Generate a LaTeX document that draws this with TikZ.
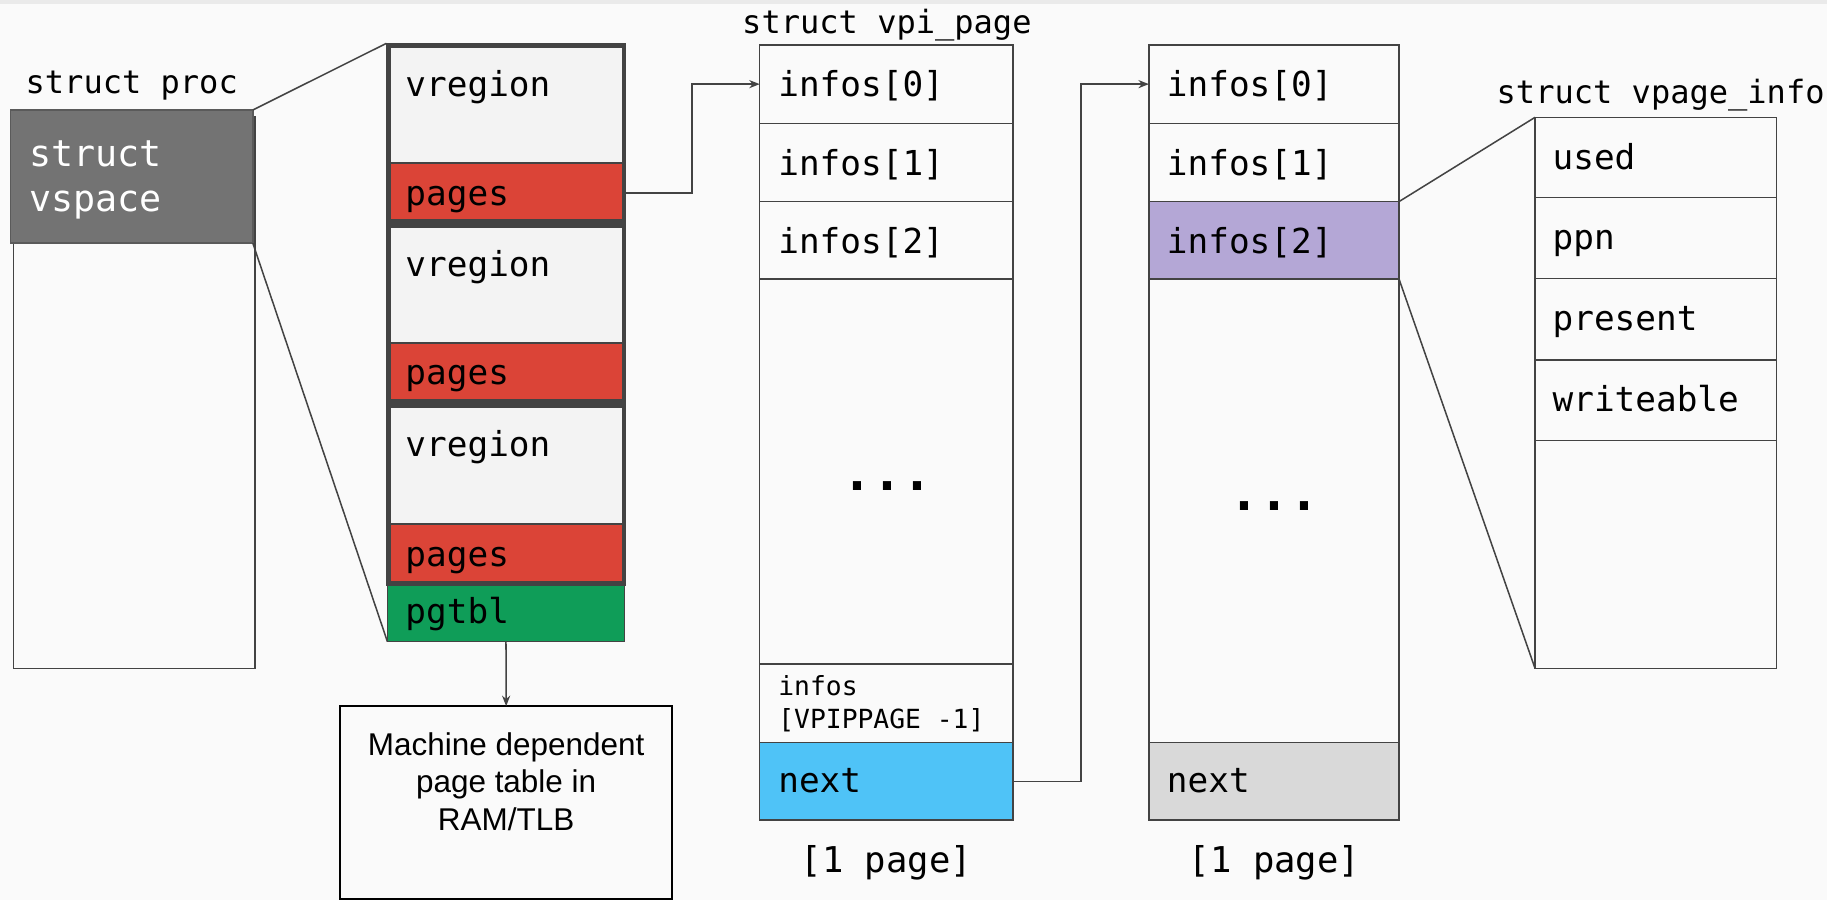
\documentclass[tikz,border=0pt]{standalone}
\usepackage{fontspec}
\newfontfamily\mono{DejaVu Sans Mono}
\newfontfamily\arialf{Liberation Sans}
\usetikzlibrary{arrows.meta}
\definecolor{bg}{HTML}{FAFAFA}
\definecolor{topstrip}{HTML}{EAEAEA}
\definecolor{ln}{HTML}{434343}
\definecolor{vsp}{HTML}{737373}
\definecolor{vspb}{HTML}{5A5A5A}
\definecolor{vreg}{HTML}{F3F3F3}
\definecolor{pgred}{HTML}{DB4437}
\definecolor{pggreen}{HTML}{0F9D58}
\definecolor{nblue}{HTML}{4FC3F7}
\definecolor{ipurple}{HTML}{B4A7D6}
\definecolor{ngray}{HTML}{D9D9D9}
\newcommand\mkcell[6]{%
  \pgfmathsetmacro\cw{#4-#2}\pgfmathsetmacro\ch{#5-#3}%
  \node[cellbox,#6,minimum width=\cw pt,minimum height=\ch pt,anchor=north west] (#1) at (#2,#3) {};}
\begin{document}
\begin{tikzpicture}[x=1pt,y=-1pt,
  cellbox/.style={draw=ln,line width=1.3pt,inner sep=0pt,outer sep=0pt},
  lab/.style={anchor=base west,inner sep=0pt,outer sep=0pt,font=\mono\fontsize{29.5}{35}\selectfont},
  small/.style={lab,font=\mono\fontsize{22.6}{27}\selectfont},
  hdr/.style={lab,font=\mono\fontsize{27.5}{33}\selectfont},
  pagelab/.style={anchor=base,inner sep=0pt,font=\mono\fontsize{30.5}{36}\selectfont},
  dots/.style={inner sep=0pt,font=\mono\bfseries\fontsize{42.7}{50}\selectfont},
  conn/.style={draw=ln,line width=1.3pt},
  arr/.style={conn,-{Stealth[length=9pt,width=7pt]}},
  gborder/.style={draw=ln,line width=3.6pt},
]
\useasboundingbox (0,0) rectangle (1568,772);
\fill[bg] (0,0) rectangle (1568,772);
\fill[topstrip] (0,0) rectangle (1568,3.5);

% struct proc
\mkcell{proc}{11.5}{100}{219}{573.6}{fill=bg}
\mkcell{vspace}{9}{94.4}{217}{208.7}{fill=vsp,draw=vspb}
\node[hdr] (tproc) at (22,80) {struct proc};
\node[lab,text=white,font=\mono\fontsize{31.5}{38}\selectfont] (tvs1) at (25,143) {struct};
\node[lab,text=white,font=\mono\fontsize{31.5}{38}\selectfont] (tvs2) at (25,181.7) {vspace};

% vregion stack
\mkcell{g1}{331.6}{37.2}{537}{191.7}{draw=none,fill=vreg}
\mkcell{p1}{331.6}{139.7}{537}{191.7}{fill=pgred}
\mkcell{g2}{331.6}{191.7}{537}{346.2}{draw=none,fill=vreg}
\mkcell{p2}{331.6}{294.2}{537}{346.2}{fill=pgred}
\mkcell{g3}{331.6}{346.2}{537}{502.5}{draw=none,fill=vreg}
\mkcell{p3}{331.6}{449.5}{537}{502.5}{fill=pgred}
\foreach \g in {g1,g2,g3}{
  \draw[gborder] ([shift={(1.8,1.8)}]\g.north west) rectangle ([shift={(-1.8,-1.8)}]\g.south east);
}
\mkcell{pgtbl}{332.5}{502.5}{536}{550.7}{fill=pggreen}
\node[lab] (tv1) at (348,83) {vregion};
\node[lab] (tv2) at (348,237.5) {vregion};
\node[lab] (tv3) at (348,392) {vregion};
\node[lab] (tp1) at (348,176) {pages};
\node[lab] (tp2) at (348,330) {pages};
\node[lab] (tp3) at (348,486) {pages};
\node[lab] (tpg) at (348,535) {pgtbl};

% machine dependent page table
\mkcell{machine}{291.8}{606}{577}{771.5}{draw=black,line width=1.5pt,fill=bg}
\node[anchor=north,inner sep=0pt,align=center,font=\arialf\fontsize{27}{32.5}\selectfont] (tmach) at (434.4,628.3)
  {Machine dependent\\page table in\\RAM/TLB};

% vpi_page 1
\node[hdr] (tvpi) at (637,28.6) {struct vpi\_page};
\mkcell{a0}{652}{38.6}{869.5}{105.8}{}
\mkcell{a1}{652}{105.8}{869.5}{173}{}
\mkcell{a2}{652}{173}{869.5}{239.5}{}
\mkcell{a3}{652}{239.5}{869.5}{570}{}
\mkcell{a4}{652}{570}{869.5}{637.4}{}
\mkcell{a5}{652}{637.4}{869.5}{703.7}{fill=nblue}
\node[lab] (ta0) at (668,83) {infos[0]};
\node[lab] (ta1) at (668,150.2) {infos[1]};
\node[lab] (ta2) at (668,217.4) {infos[2]};
\node[dots] (da) at (761.7,417.5) {...};
\node[small] (ta4a) at (668,597.3) {infos};
\node[small] (ta4b) at (668,625) {[VPIPPAGE -1]};
\node[lab] (ta5) at (668,680.3) {next};
\node[pagelab] (pga) at (760.7,749) {[1 page]};

% vpi_page 2
\mkcell{b0}{986}{38.6}{1200.7}{105.8}{}
\mkcell{b1}{986}{105.8}{1200.7}{173}{}
\mkcell{b2}{986}{173}{1200.7}{239.5}{fill=ipurple}
\mkcell{b3}{986}{239.5}{1200.7}{637.4}{}
\mkcell{b4}{986}{637.4}{1200.7}{703.7}{fill=ngray}
\node[lab] (tb0) at (1001.5,83) {infos[0]};
\node[lab] (tb1) at (1001.5,150.2) {infos[1]};
\node[lab] (tb2) at (1001.5,217.4) {infos[2]};
\node[dots] (db) at (1093.8,434.7) {...};
\node[lab] (tb4) at (1001.5,680.3) {next};
\node[pagelab] (pgb) at (1093.8,749) {[1 page]};

% vpage_info
\node[hdr] (tvpg) at (1284.5,88.7) {struct vpage\_info};
\mkcell{c0}{1317.4}{100.7}{1524.8}{169.4}{}
\mkcell{c1}{1317.4}{169.4}{1524.8}{238.9}{}
\mkcell{c2}{1317.4}{238.9}{1524.8}{309}{}
\mkcell{c3}{1317.4}{309}{1524.8}{378.2}{}
\mkcell{c4}{1317.4}{378.2}{1524.8}{573.6}{}
\node[lab] (tc0) at (1332.5,145.2) {used};
\node[lab] (tc1) at (1332.5,213.9) {ppn};
\node[lab] (tc2) at (1332.5,283.4) {present};
\node[lab] (tc3) at (1332.5,353.5) {writeable};

% connectors
\draw[conn] (vspace.north east) -- (g1.north west);
\draw[conn] (vspace.south east) -- (pgtbl.south west);
\draw[arr] (pgtbl.south) -- (machine.north);
\draw[arr] (p1.east) -- ++(57,0) |- (a0.west);
\draw[arr] (a5.east) -- ++(58.3,0) |- (b0.west);
\draw[conn] (b2.north east) -- (c0.north west);
\draw[conn] (b2.south east) -- (c4.south west);
\end{tikzpicture}
\end{document}
